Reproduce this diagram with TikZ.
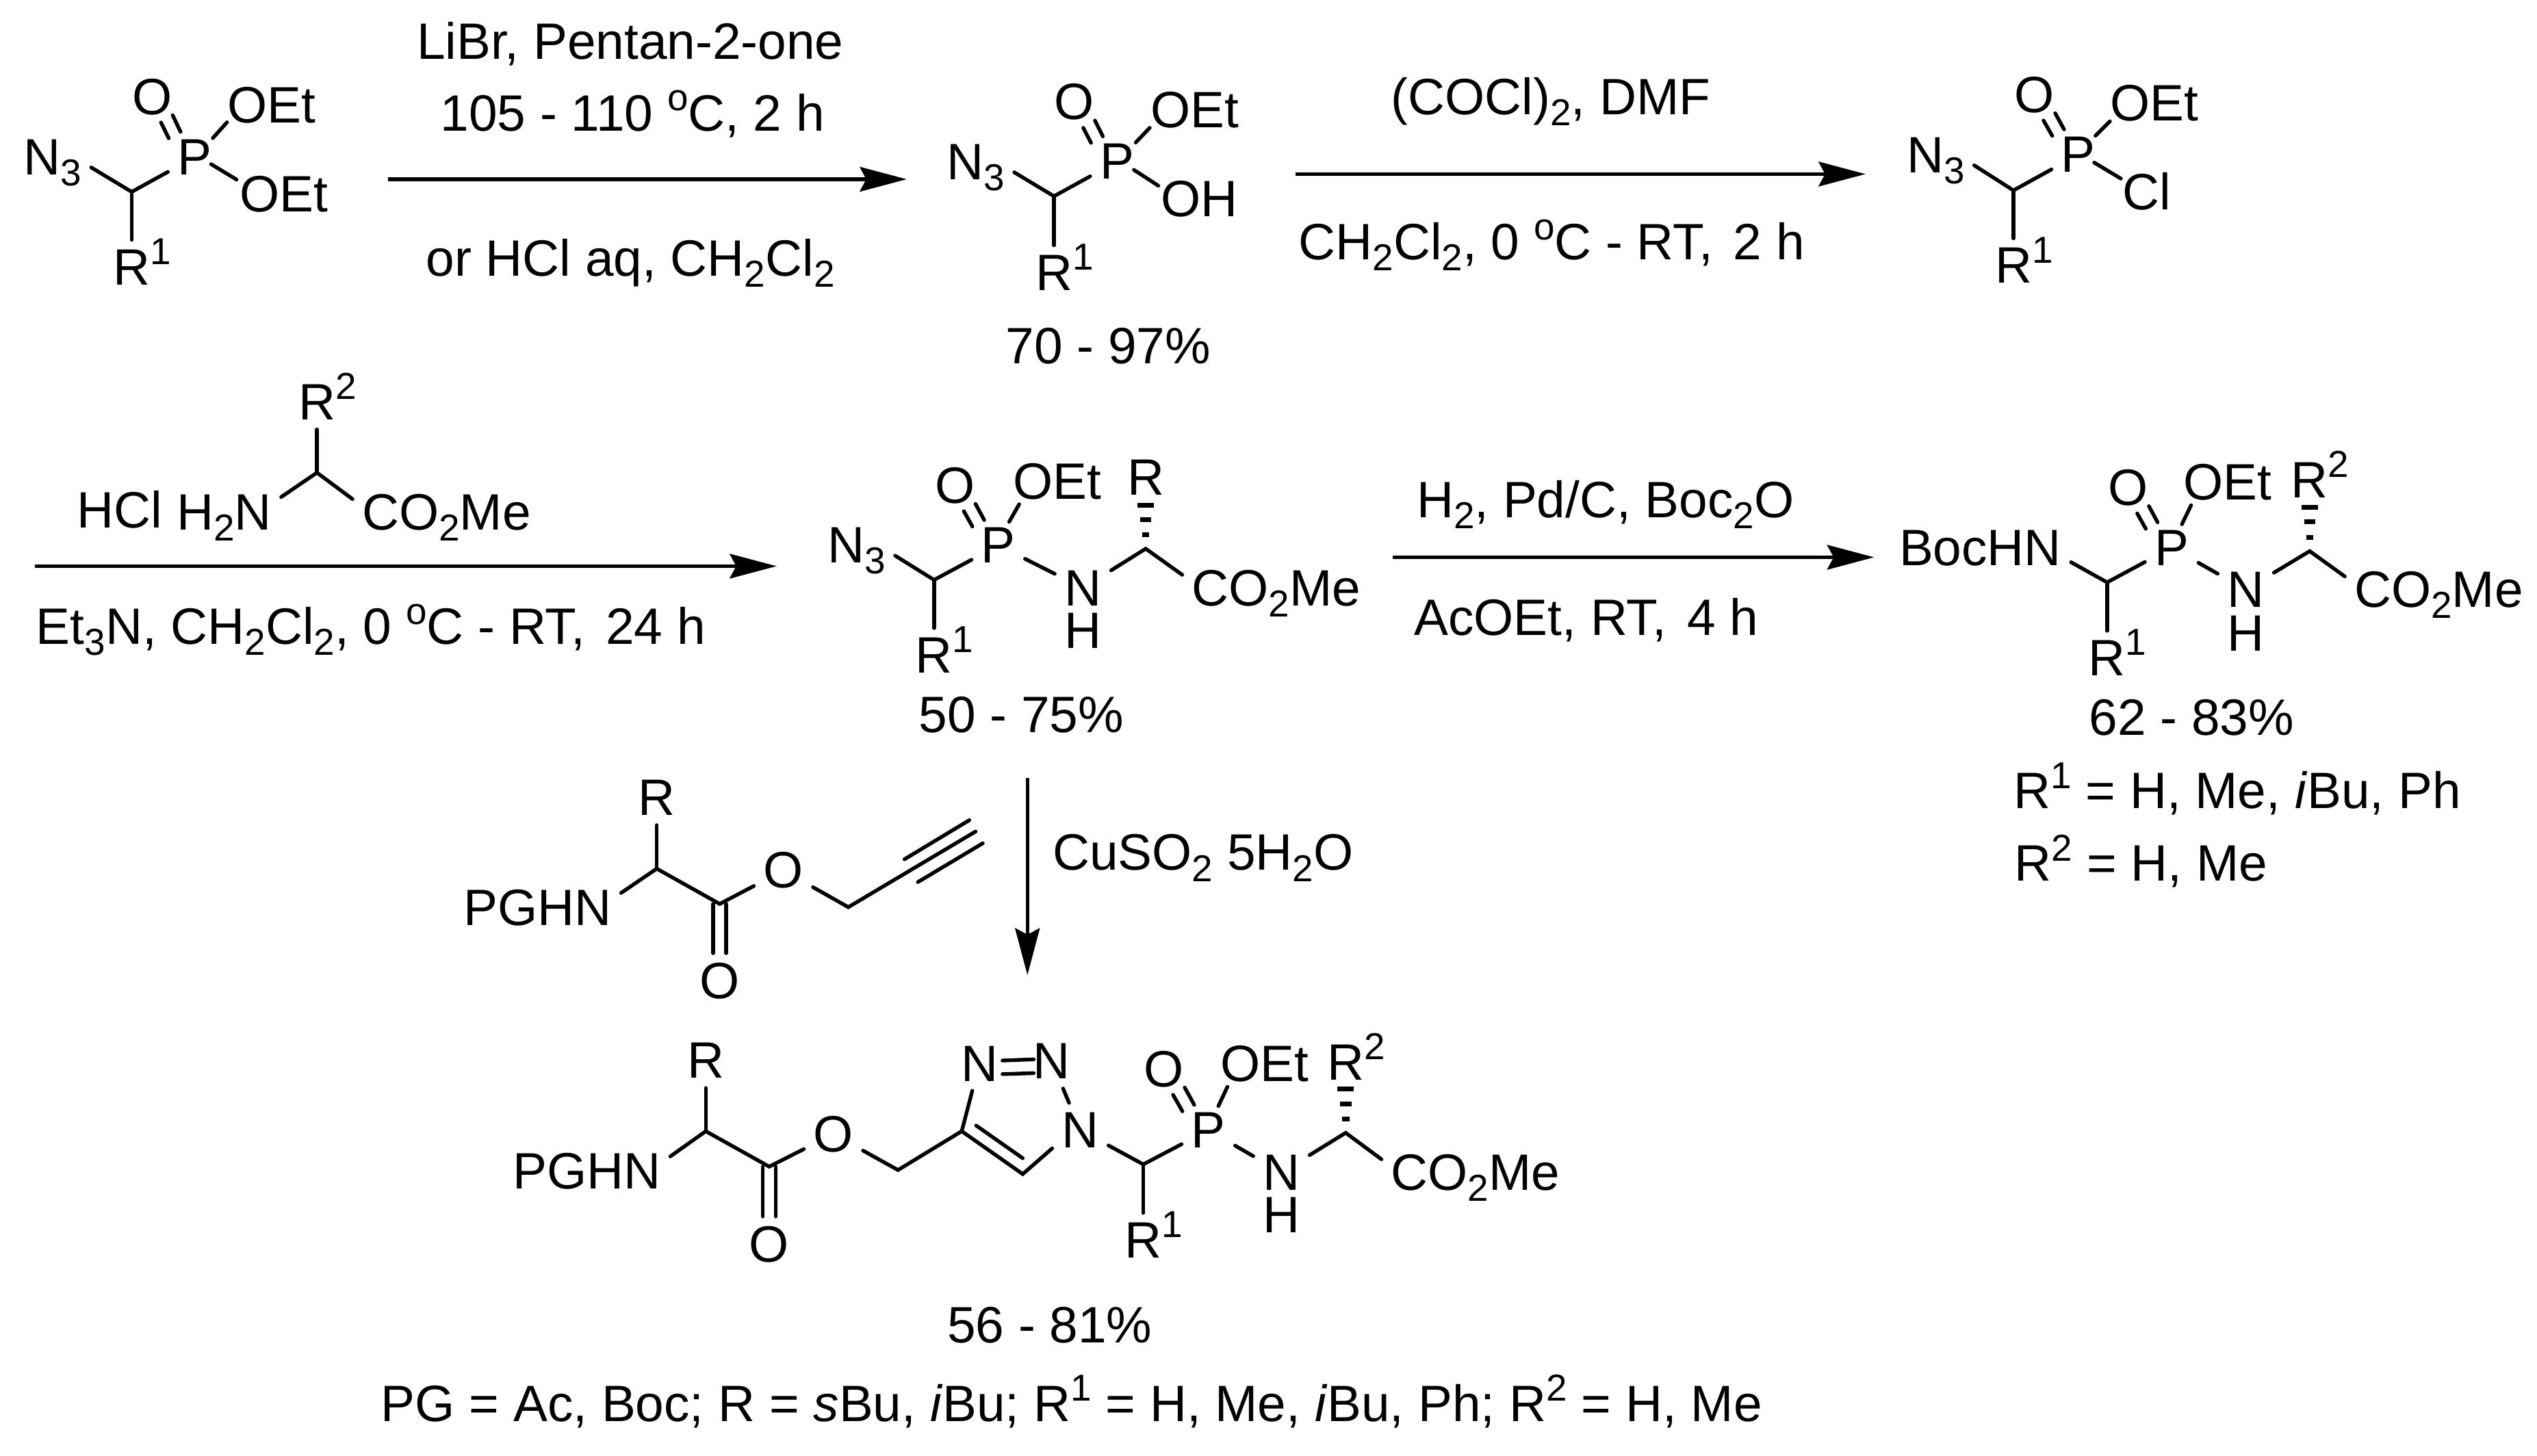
\documentclass[tikz,border=0pt]{standalone}
\usepackage{fontspec}
\setmainfont{Liberation Sans}
\usepackage{tikz}
\usetikzlibrary{arrows.meta}

\newcommand{\supr}[1]{\smash{\raisebox{.125cm}{\fontsize{6.6}{7}\selectfont #1}}}
\newcommand{\subr}[1]{\smash{\raisebox{-.068cm}{\fontsize{6.6}{7}\selectfont #1}}}

% the two strokes of a P=O bond
\newcommand{\pobond}[2]{
    \draw[bond] ([shift={(.055,-.05)}]#1.base) -- ([shift={(-.16,.225)}]#2.base);
    \draw[bond] ([shift={(.127,-.005)}]#1.base) -- ([shift={(-.087,.265)}]#2.base);
}
% the hashed bond going up from a carbon
\newcommand{\hashbond}[1]{
    \foreach \dy/\hw in {.085/.022, .18/.035, .27/.05} {
        \draw[line width=.03cm] ([shift={(-\hw,\dy)}]#1) -- ([shift={(\hw,\dy)}]#1);
    }
}

\tikzset{
    every node/.style={font=\fontsize{9}{11}\selectfont},
    atom/.style={anchor=base, inner sep=1.5pt},
    txt/.style={anchor=base, inner sep=0pt},
    bond/.style={line width=.65pt, line cap=round},
    rxn/.style={line width=.62pt, -{Stealth[length=.29cm, width=.152cm, inset=.04cm]}},
}

\begin{document}
\begin{tikzpicture}
    \useasboundingbox (0,0) rectangle (15.68,-9);

    % diethyl phosphonate
    \node[atom] (estNc) at (.325,-1.08) {N\subr{3}};
    \node[atom] (estP) at (1.203,-1.08) {P};
    \node[atom] (estO) at (.94,-.707) {O};
    \node[atom] (estOa) at (1.68,-.76) {OEt};
    \node[atom] (estOb) at (1.755,-1.307) {OEt};
    \node[atom] (estR) at (.814,-1.76) {R\rlap{\supr{1}}};
    \coordinate (estC) at (.814,-1.186);
    \draw[bond] (estNc.-15) -- (estC) -- (estP);
    \draw[bond] (estC) -- (estR);
    \pobond{estO}{estP}
    \draw[bond] ([shift={(.112,.226)}]estP.base) -- ([shift={(-.277,.004)}]estOa.base);
    \draw[bond] ([shift={(.102,.065)}]estP.base) -- ([shift={(-.293,.197)}]estOb.base);

    % first arrow
    \coordinate (arrAs) at (2.40,-1.108);
    \coordinate (arrAe) at (5.604,-1.108);
    \draw[rxn] (arrAs) -- (arrAe);
    \node[txt] (rgtAa) at (3.895,-.367) {LiBr, Pentan-2-one};
    \node[txt] (rgtAb) at (3.91,-.81) {105 - 110 \supr{o}C, 2 h};
    \node[txt] (rgtAc) at (3.896,-1.707) {or HCl aq, CH\subr{2}Cl\subr{2}};

    % monoester acid
    \node[atom] (acdNc) at (6.03,-1.11) {N\subr{3}};
    \node[atom] (acdP) at (6.903,-1.108) {P};
    \node[atom] (acdO) at (6.64,-.74) {O};
    \node[atom] (acdOa) at (7.383,-.789) {OEt};
    \node[atom] (acdOb) at (7.412,-1.337) {OH};
    \node[atom] (acdR) at (6.514,-1.794) {R\rlap{\supr{1}}};
    \coordinate (acdC) at (6.514,-1.213);
    \draw[bond] (acdNc.-15) -- (acdC) -- (acdP);
    \draw[bond] (acdC) -- (acdR);
    \pobond{acdO}{acdP}
    \draw[bond] ([shift={(.116,.227)}]acdP.base) -- ([shift={(-.277,-.001)}]acdOa.base);
    \draw[bond] ([shift={(.105,.058)}]acdP.base) -- ([shift={(-.253,.189)}]acdOb.base);
    \node[txt] (acdY) at (6.85,-2.25) {70 - 97\%};

    % second arrow
    \coordinate (arrBs) at (8.008,-1.076);
    \coordinate (arrBe) at (11.53,-1.076);
    \draw[rxn] (arrBs) -- (arrBe);
    \node[txt] (rgtBa) at (9.585,-.71) {(COCl)\subr{2}, DMF};
    \node[txt] (rgtBb) at (9.59,-1.606) {CH\subr{2}Cl\subr{2}, 0 \supr{o}C - RT,~\hspace{.04cm}2 h};

    % phosphonochloridate
    \node[atom] (chlNc) at (11.963,-1.067) {N\subr{3}};
    \node[atom] (chlP) at (12.844,-1.065) {P};
    \node[atom] (chlO) at (12.575,-.695) {O};
    \node[atom] (chlOa) at (13.315,-.747) {OEt};
    \node[atom] (chlCl) at (13.267,-1.297) {Cl};
    \node[atom] (chlR) at (12.444,-1.751) {R\rlap{\supr{1}}};
    \coordinate (chlC) at (12.444,-1.177);
    \draw[bond] (chlNc.-15) -- (chlC) -- (chlP);
    \draw[bond] (chlC) -- (chlR);
    \pobond{chlO}{chlP}
    \draw[bond] ([shift={(.107,.226)}]chlP.base) -- ([shift={(-.275,-.003)}]chlOa.base);
    \draw[bond] ([shift={(.099,.06)}]chlP.base) -- ([shift={(-.159,.193)}]chlCl.base);

    % amino ester over the third arrow
    \node[atom] (amnR) at (1.959,-2.595) {R\rlap{\supr{2}}};
    \node[atom] (amnN) at (1.385,-3.276) {H\subr{2}N};
    \node[atom] (amnCO) at (2.76,-3.276) {CO\subr{2}Me};
    \node[txt] (amnH) at (.738,-3.264) {HCl};
    \coordinate (amnC) at (1.959,-2.922);
    \draw[bond] (amnR) -- (amnC);
    \draw[bond] (amnN.15) -- (amnC) -- (amnCO.172);

    % third arrow
    \coordinate (arrCs) at (.217,-3.50);
    \coordinate (arrCe) at (4.80,-3.50);
    \draw[rxn] (arrCs) -- (arrCe);
    \node[txt] (rgtC) at (2.292,-3.983) {Et\subr{3}N, CH\subr{2}Cl\subr{2}, 0 \supr{o}C - RT,~\hspace{.04cm}24 h};

    % azido phosphonamidate
    \node[atom] (azdNc) at (5.294,-3.48) {N\subr{3}};
    \node[atom] (azdP) at (6.17,-3.48) {P};
    \node[atom] (azdO) at (5.902,-3.11) {O};
    \node[atom] (azdOa) at (6.534,-3.087) {OEt};
    \node[atom] (azdN) at (6.693,-3.744) {N};
    \node[txt] (azdH) at (6.693,-4.008) {H};
    \node[atom] (azdCO) at (7.888,-3.744) {CO\subr{2}Me};
    \node[atom] (azdRa) at (7.081,-3.061) {R};
    \node[atom] (azdRb) at (5.773,-4.16) {R\rlap{\supr{1}}};
    \coordinate (azdCa) at (5.773,-3.585);
    \coordinate (azdCb) at (7.081,-3.392);
    \draw[bond] (azdNc.-15) -- (azdCa) -- (azdP);
    \draw[bond] (azdCa) -- (azdRb);
    \pobond{azdO}{azdP}
    \draw[bond] ([shift={(.067,.254)}]azdP.base) -- ([shift={(-.235,-.03)}]azdOa.base);
    \draw[bond] (azdP) -- (azdN);
    \draw[bond] (azdN) -- (azdCb) -- (azdCO.172);
    \hashbond{azdCb}
    \node[txt] (azdY) at (6.312,-4.53) {50 - 75\%};

    % fourth arrow
    \coordinate (arrDs) at (8.608,-3.445);
    \coordinate (arrDe) at (11.583,-3.445);
    \draw[rxn] (arrDs) -- (arrDe);
    \node[txt] (rgtDa) at (9.922,-3.201) {H\subr{2}, Pd/C, Boc\subr{2}O};
    \node[txt] (rgtDb) at (9.804,-3.927) {AcOEt, RT,~\hspace{.04cm}4 h};

    % Boc protected product
    \node[atom] (bocN) at (12.239,-3.494) {BocHN};
    \node[atom] (bocP) at (13.422,-3.494) {P};
    \node[atom] (bocO) at (13.154,-3.124) {O};
    \node[atom] (bocOa) at (13.768,-3.09) {OEt};
    \node[atom] (bocNb) at (13.88,-3.754) {N};
    \node[txt] (bocH) at (13.88,-4.026) {H};
    \node[atom] (bocCO) at (15.073,-3.754) {CO\subr{2}Me};
    \node[atom] (bocRa) at (14.275,-3.077) {R\rlap{\supr{2}}};
    \node[atom] (bocRb) at (13.023,-4.177) {R\rlap{\supr{1}}};
    \coordinate (bocCa) at (13.023,-3.60);
    \coordinate (bocCb) at (14.275,-3.407);
    \draw[bond] (bocN.-9) -- (bocCa) -- (bocP);
    \draw[bond] (bocCa) -- (bocRb);
    \pobond{bocO}{bocP}
    \draw[bond] ([shift={(.063,.253)}]bocP.base) -- ([shift={(-.226,-.033)}]bocOa.base);
    \draw[bond] (bocP) -- (bocNb);
    \draw[bond] (bocNb) -- (bocCb) -- (bocCO.172);
    \hashbond{bocCb}
    \node[txt] (bocY) at (13.545,-4.545) {62 - 83\%};
    \node[txt] (bocL) at (13.828,-4.999) {R\supr{1} = H, Me, \textit{i}Bu, Ph};
    \node[txt] (bocM) at (13.233,-5.447) {R\supr{2} = H, Me};

    % propargyl ester
    \node[atom] (prgN) at (3.322,-5.72) {PGHN};
    \node[atom] (prgR) at (4.059,-5.041) {R};
    \node[atom] (prgOa) at (4.842,-5.49) {O};
    \node[atom] (prgOb) at (4.448,-6.173) {O};
    \coordinate (prgCa) at (4.059,-5.37);
    \coordinate (prgCb) at (4.448,-5.588);
    \coordinate (prgCc) at (5.243,-5.608);
    \coordinate (prgCd) at (6.03,-5.14);
    \coordinate (prgEa) at (5.59,-5.312);
    \coordinate (prgEb) at (5.991,-5.07);
    \coordinate (prgFa) at (5.673,-5.453);
    \coordinate (prgFb) at (6.074,-5.213);
    \draw[bond] (prgN.10) -- (prgCa) -- (prgCb) -- (prgOa);
    \draw[bond] (prgOa) -- (prgCc) -- (prgCd);
    \draw[bond] (prgR) -- (prgCa);
    \draw[bond] ([xshift=-.04cm]prgCb) -- ([xshift=-.04cm]prgOb.north);
    \draw[bond] ([xshift=.04cm]prgCb) -- ([xshift=.04cm]prgOb.north);
    \draw[bond] (prgEa) -- (prgEb);
    \draw[bond] (prgFa) -- (prgFb);

    % fifth arrow
    \coordinate (arrEs) at (6.35,-4.81);
    \coordinate (arrEe) at (6.35,-6.028);
    \draw[rxn] (arrEs) -- (arrEe);
    \node[txt] (rgtE) at (7.435,-5.38) {CuSO\subr{2} 5H\subr{2}O};

    % triazole product
    \node[atom] (triN) at (3.626,-7.349) {PGHN};
    \node[atom] (triR) at (4.362,-6.666) {R};
    \node[atom] (triOa) at (5.151,-7.12) {O};
    \node[atom] (triOb) at (4.754,-7.801) {O};
    \coordinate (triCa) at (4.362,-6.993);
    \coordinate (triCb) at (4.754,-7.212);
    \coordinate (triCc) at (5.55,-7.233);
    \coordinate (triCd) at (5.944,-6.993);
    \coordinate (triCe) at (6.321,-7.258);
    \coordinate (triDa) at (6.033,-6.958);
    \coordinate (triDb) at (6.321,-7.16);
    \node[atom] (triNa) at (6.677,-7.095) {N};
    \node[atom] (triNb) at (6.50,-6.669) {N};
    \node[atom] (triNc) at (6.053,-6.683) {N};
    \draw[bond] (triN.10) -- (triCa) -- (triCb) -- (triOa);
    \draw[bond] (triOa) -- (triCc) -- (triCd) -- (triCe) -- (triNa.213);
    \draw[bond] (triR) -- (triCa);
    \draw[bond] ([xshift=-.04cm]triCb) -- ([xshift=-.04cm]triOb.north);
    \draw[bond] ([xshift=.04cm]triCb) -- ([xshift=.04cm]triOb.north);
    \draw[bond] (triDa) -- (triDb);
    \draw[bond] (triCd) -- (triNc);
    \draw[bond] (triNb) -- (triNa);
    \draw[bond] ([shift={(.143,.127)}]triNc.base) -- ([shift={(-.111,.12)}]triNb.base);
    \draw[bond] ([shift={(.143,.043)}]triNc.base) -- ([shift={(-.111,.035)}]triNb.base);
    \node[atom] (triP) at (7.468,-7.095) {P};
    \node[atom] (triO) at (7.195,-6.718) {O};
    \node[atom] (triOc) at (7.815,-6.686) {OEt};
    \node[atom] (triNd) at (7.92,-7.357) {N};
    \node[txt] (triH) at (7.92,-7.618) {H};
    \node[atom] (triCO) at (9.119,-7.357) {CO\subr{2}Me};
    \node[atom] (triRa) at (8.317,-6.676) {R\rlap{\supr{2}}};
    \node[atom] (triRb) at (7.066,-7.776) {R\rlap{\supr{1}}};
    \coordinate (triCf) at (7.066,-7.198);
    \coordinate (triCg) at (8.317,-7.003);
    \draw[bond] (triNa) -- (triCf) -- (triP);
    \draw[bond] (triCf) -- (triRb);
    \pobond{triO}{triP}
    \draw[bond] ([shift={(.062,.257)}]triP.base) -- ([shift={(-.229,-.032)}]triOc.base);
    \draw[bond] (triP) -- (triNd);
    \draw[bond] (triNd) -- (triCg) -- (triCO.172);
    \hashbond{triCg}
    \node[txt] (triY) at (6.488,-8.302) {56 - 81\%};
    \node[txt] (triL) at (6.623,-8.787) {PG = Ac, Boc; R = \textit{s}Bu, \textit{i}Bu; R\supr{1} = H, Me, \textit{i}Bu, Ph; R\supr{2} = H, Me};
\end{tikzpicture}
\end{document}
